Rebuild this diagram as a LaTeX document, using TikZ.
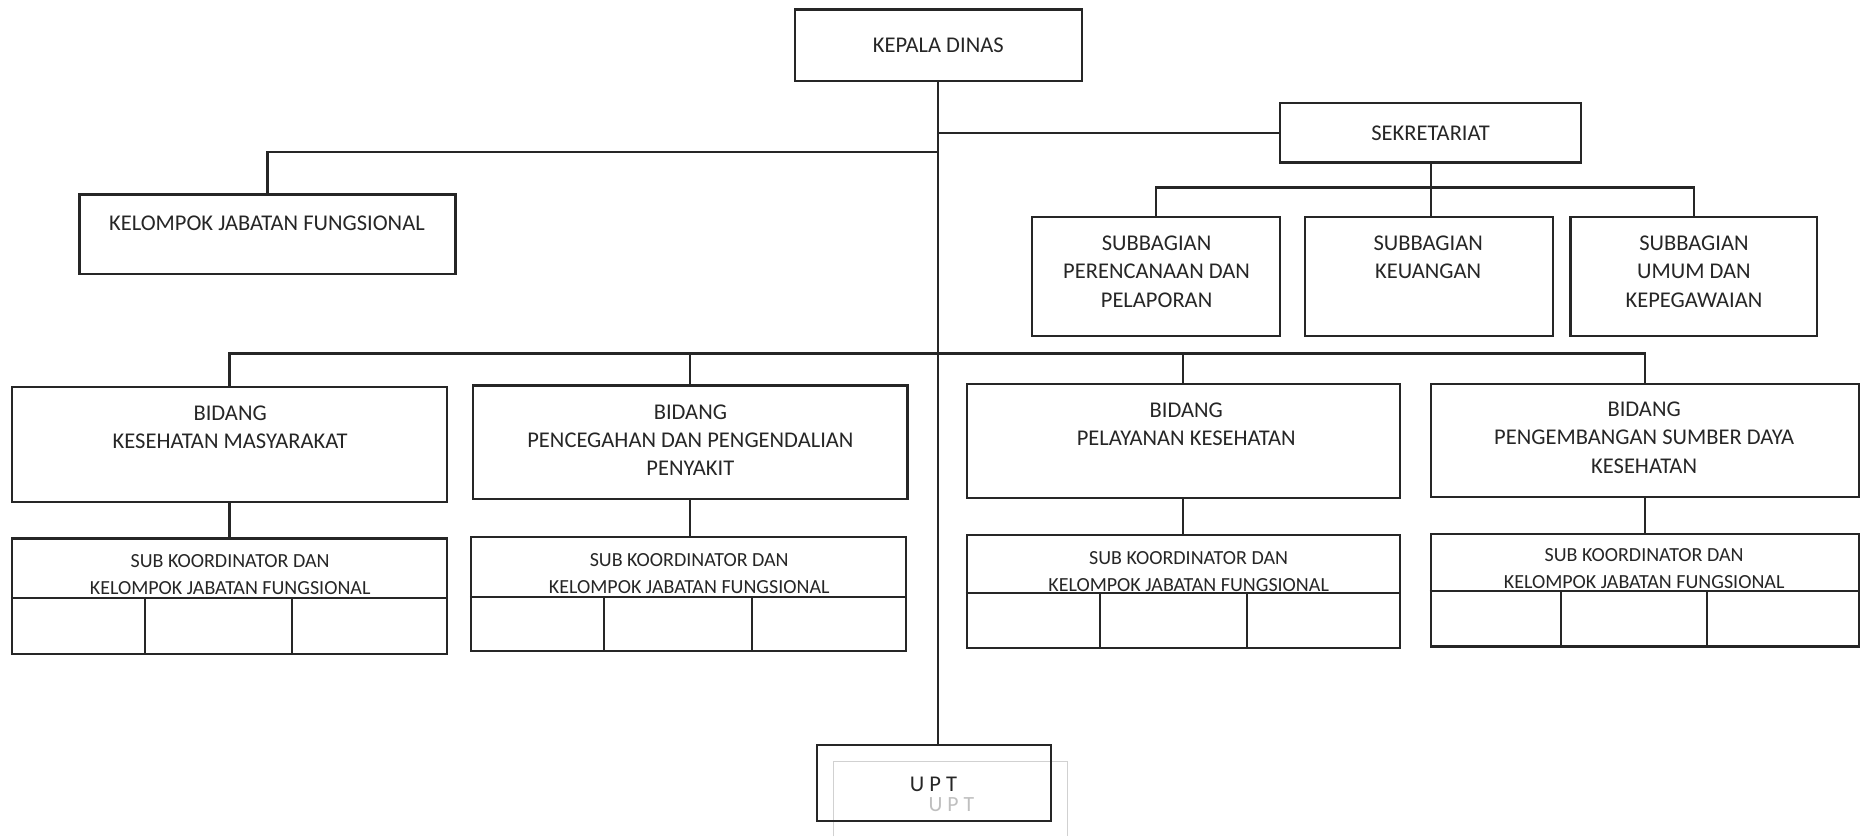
\documentclass[tikz,border=0pt]{standalone}
\usepackage{fontspec}
\setmainfont{Carlito}
\usetikzlibrary{fit}

\begin{document}
\begin{tikzpicture}[x=0.25mm, y=-0.25mm]

                \tikzstyle{box}   = [draw=black!85, rectangle, inner sep=0pt, line width=1.3pt]
                \tikzstyle{txt}   = [align=center, inner sep=0pt, text=black!85, font=\fontsize{13.5}{17}\selectfont]
                \tikzstyle{small} = [align=center, inner sep=0pt, text=black!85, font=\fontsize{12}{16.3}\selectfont]
                \tikzstyle{link}  = [draw=black!85, line width=1.3pt]
                \useasboundingbox (0,0) rectangle (1568,705);

                \node [box, fit={(670,8) (912,68)}](kepala) {};
                \node [txt](kepalaT) at (791,38) {KEPALA DINAS};
                \node [box, fit={(1079,87) (1333,137)}](sekre) {};
                \node [txt](sekreT) at (1206,112) {SEKRETARIAT};
                \node [box, fit={(67,164) (384,231)}](kelompok) {};
                \node [txt](kelompokT) at (225,188) {KELOMPOK JABATAN FUNGSIONAL};

                \node [box, fit={(870,183) (1079,283)}](sub1) {};
                \node [box, fit={(1100,183) (1309,283)}](sub2) {};
                \node [box, fit={(1324,183) (1532,283)}](sub3) {};
                \node [txt](sub1T) at (975,229) {SUBBAGIAN\\PERENCANAAN DAN\\PELAPORAN};
                \node [txt](sub2T) at (1204,217) {SUBBAGIAN\\KEUANGAN};
                \node [txt](sub3T) at (1428,229) {SUBBAGIAN\\UMUM DAN\\KEPEGAWAIAN};

                \node [box, fit={(10,326) (377,423)}](bid1) {};
                \node [box, fit={(399,325) (765,421)}](bid2) {};
                \node [box, fit={(815,324) (1180,420)}](bid3) {};
                \node [box, fit={(1206,324) (1567,419)}](bid4) {};
                \node [txt](bid1T) at (194,360) {BIDANG\\KESEHATAN MASYARAKAT};
                \node [txt](bid2T) at (582,371) {BIDANG\\PENCEGAHAN DAN PENGENDALIAN\\PENYAKIT};
                \node [txt](bid3T) at (1000,357.5) {BIDANG\\PELAYANAN KESEHATAN};
                \node [txt](bid4T) at (1386,369) {BIDANG\\PENGEMBANGAN SUMBER DAYA\\KESEHATAN};

                \node [box, fit={(10,454) (377,551)}](subk1) {};
                \node [box, fit={(397,453) (764,549)}](subk2) {};
                \node [box, fit={(815,451) (1180,546)}](subk3) {};
                \node [box, fit={(1206,450) (1567,545)}](subk4) {};
                \node [small](subk1T) at (194,484.5) {SUB KOORDINATOR DAN\\KELOMPOK JABATAN FUNGSIONAL};
                \node [small](subk2T) at (581,483.5) {SUB KOORDINATOR DAN\\KELOMPOK JABATAN FUNGSIONAL};
                \node [small](subk3T) at (1002,481.5) {SUB KOORDINATOR DAN\\KELOMPOK JABATAN FUNGSIONAL};
                \node [small](subk4T) at (1386,479.5) {SUB KOORDINATOR DAN\\KELOMPOK JABATAN FUNGSIONAL};
                \draw [link] (subk1.west |- 0,504) -- (subk1.east |- 0,504);
                \draw [link] (122,504) -- (122,551);
                \draw [link] (246,504) -- (246,551);
                \draw [link] (subk2.west |- 0,503) -- (subk2.east |- 0,503);
                \draw [link] (509,503) -- (509,549);
                \draw [link] (634,503) -- (634,549);
                \draw [link] (subk3.west |- 0,500) -- (subk3.east |- 0,500);
                \draw [link] (927,500) -- (927,546);
                \draw [link] (1051,500) -- (1051,546);
                \draw [link] (subk4.west |- 0,498) -- (subk4.east |- 0,498);
                \draw [link] (1316,498) -- (1316,545);
                \draw [link] (1439,498) -- (1439,545);

                \draw [black!18, line width=0.6pt] (703,705) |- (900,642) -- (900,705);
                \node [text=black!25, inner sep=0pt, font=\fontsize{13}{17}\selectfont](uptghost) at (802,678) {U P T};
                \node [box, fit={(689,628) (886,692)}](upt) {};
                \node [txt](uptT) at (787,661) {U P T};

                \coordinate (kjoin) at (791,128);
                \coordinate (sjoin) at (1206,158);
                \coordinate (bjoin) at (791,298);
                \draw [link] (kepala.south) -- (kepala.south |- upt.north);
                \draw [link] (kelompok.north) |- (kjoin);
                \draw [link] (sekre.west) -- (sekre.west -| kepala.south);
                \draw [link] (sekre.south) -- (sekre.south |- sub2.north);
                \draw [link] (sub1.north) |- (sjoin) -| (sub3.north);
                \draw [link] (bid1.north) |- (bjoin) -| (bid4.north);
                \draw [link] (bid2.north) -- (bid2.north |- bjoin);
                \draw [link] (bid3.north) -- (bid3.north |- bjoin);
                \draw [link] (bid1.south) -- (bid1.south |- subk1.north);
                \draw [link] (bid2.south) -- (bid2.south |- subk2.north);
                \draw [link] (bid3.south) -- (bid3.south |- subk3.north);
                \draw [link] (bid4.south) -- (bid4.south |- subk4.north);
\end{tikzpicture}
\end{document}
